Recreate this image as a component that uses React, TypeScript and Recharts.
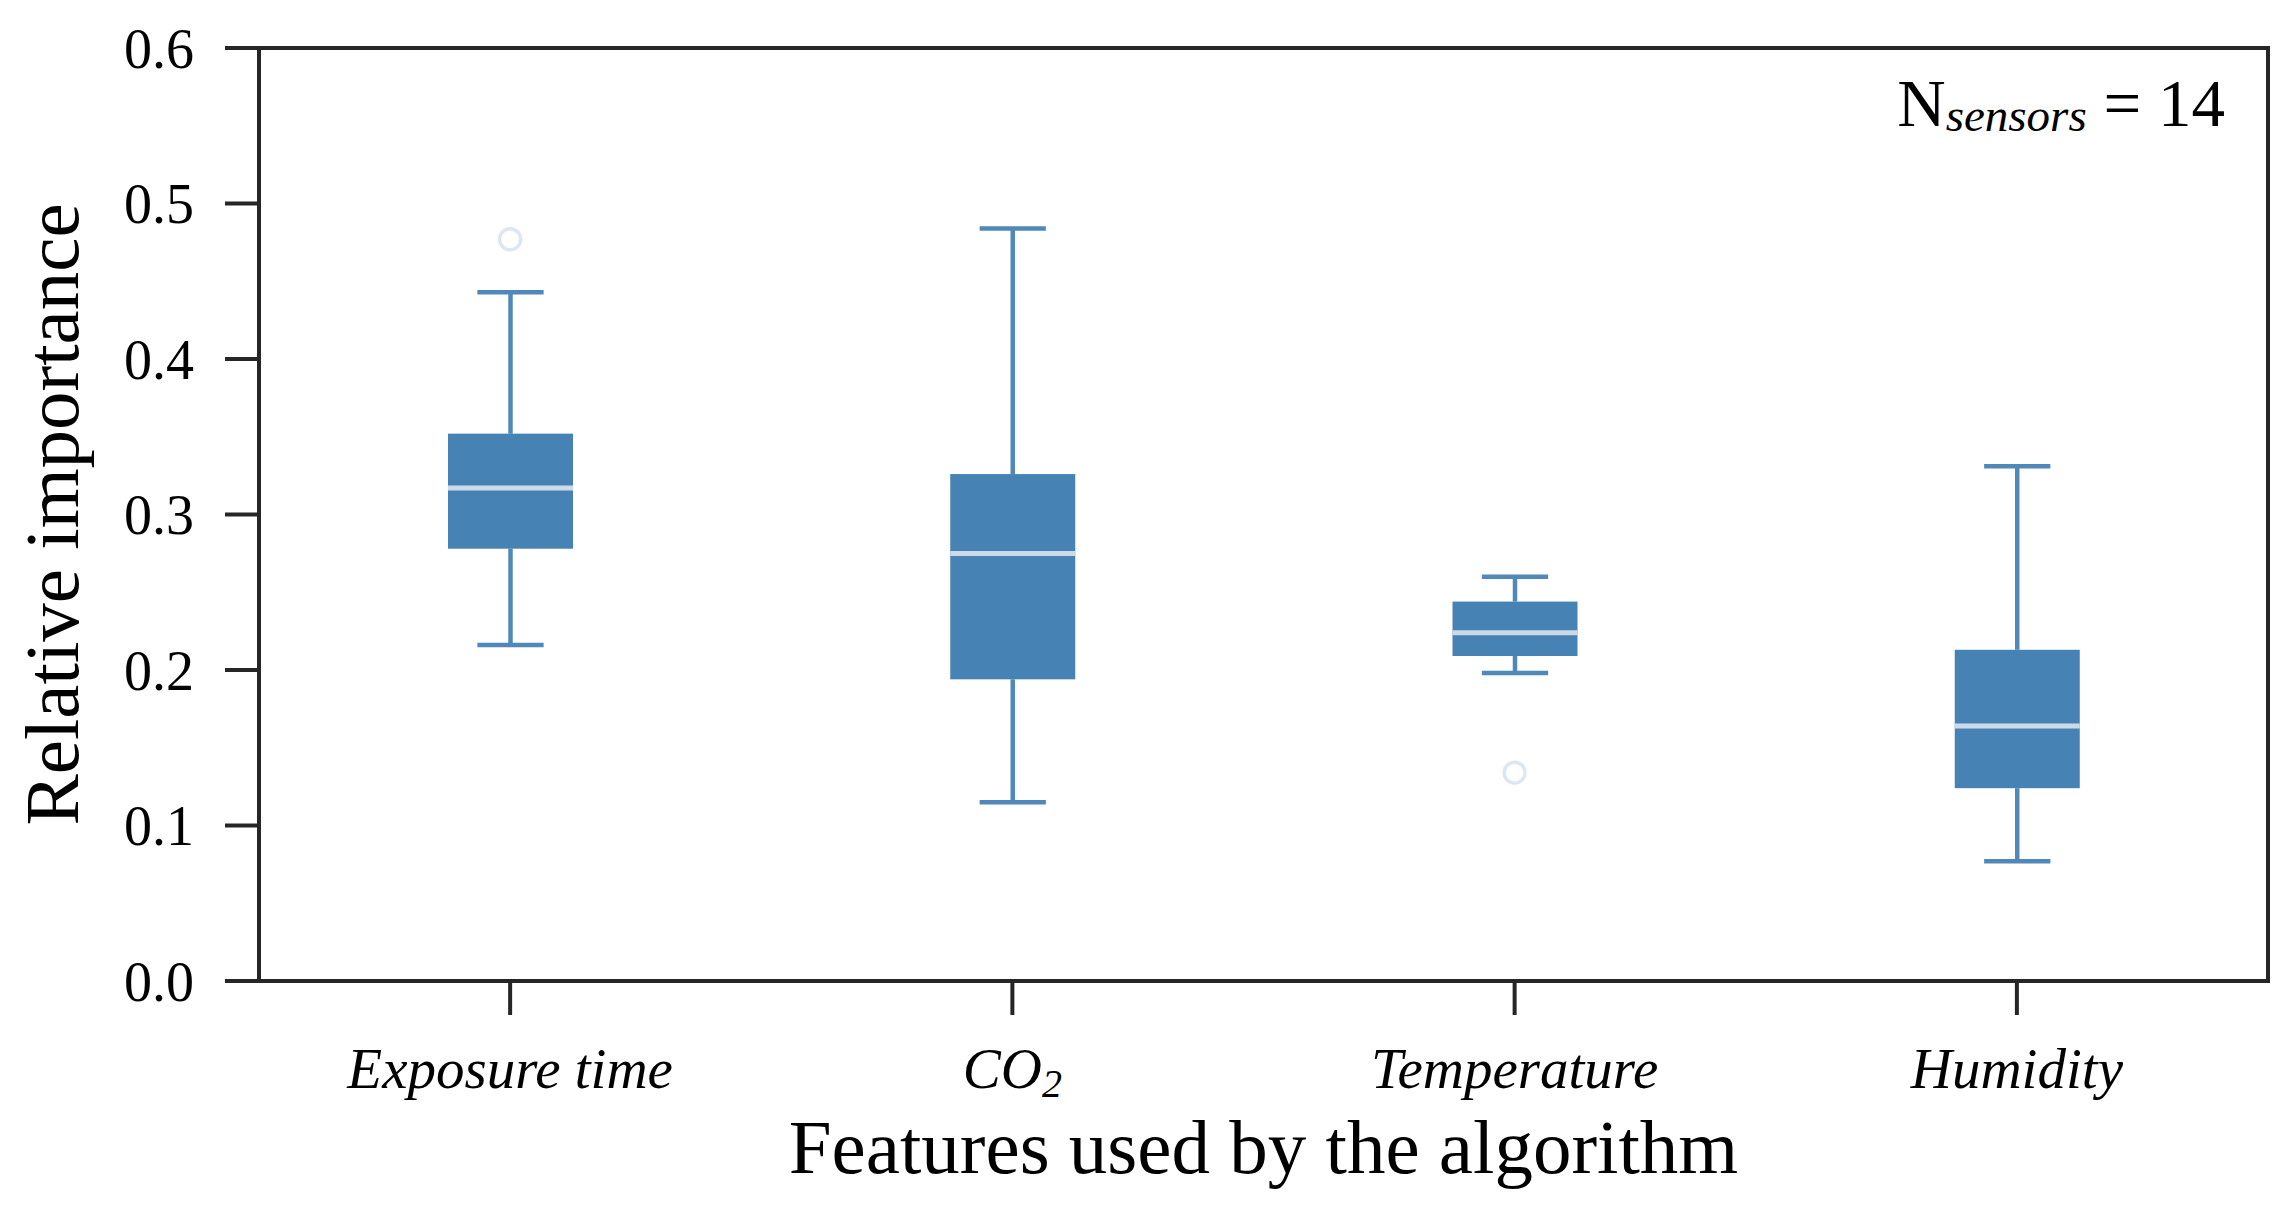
import React from "react";
import { ComposedChart, Bar, Scatter, XAxis, YAxis, ReferenceArea } from "recharts";

const categories = ["Exposure time", "CO2", "Temperature", "Humidity"];
const whiskerLow = [0.216, 0.115, 0.198, 0.077];
const q1 = [0.278, 0.194, 0.209, 0.124];
const median = [0.317, 0.275, 0.224, 0.164];
const q3 = [0.352, 0.326, 0.244, 0.213];
const whiskerHigh = [0.443, 0.484, 0.26, 0.331];
const outliers = [0.477, null, 0.134, null];
const yTicks = [0, 0.1, 0.2, 0.3, 0.4, 0.5, 0.6];

const data = categories.map((name, i) => ({
  name,
  low: whiskerLow[i],
  q1: q1[i],
  median: median[i],
  q3: q3[i],
  high: whiskerHigh[i],
  outlier: outliers[i],
}));

const FONT = "'Liberation Serif', 'Times New Roman', serif";
const BLUE = "#4682b4";
const WHISKER = "#5089b9";
const AXIS = "#262626";

// box drawn inside the range bar [low, high]; pixel positions come from the bar's own scale
function BoxShape(props: any) {
  const { x, y, width, height, payload } = props;
  if (!payload || !height) return <g />;
  const top = Math.min(y, y + height);
  const h = Math.abs(height);
  const ppu = h / (payload.high - payload.low);
  const yOf = (v: number) => top + (payload.high - v) * ppu;
  const cx = x + width / 2;
  const capW = width * 0.53;
  return (
    <g>
      <line x1={cx} x2={cx} y1={yOf(payload.high)} y2={yOf(payload.q3)} stroke={WHISKER} strokeWidth={4.5} />
      <line x1={cx} x2={cx} y1={yOf(payload.q1)} y2={yOf(payload.low)} stroke={WHISKER} strokeWidth={4.5} />
      <line x1={cx - capW / 2} x2={cx + capW / 2} y1={yOf(payload.high)} y2={yOf(payload.high)} stroke={WHISKER} strokeWidth={4.5} />
      <line x1={cx - capW / 2} x2={cx + capW / 2} y1={yOf(payload.low)} y2={yOf(payload.low)} stroke={WHISKER} strokeWidth={4.5} />
      <rect x={x} y={yOf(payload.q3)} width={width} height={yOf(payload.q1) - yOf(payload.q3)} fill={BLUE} />
      <line x1={x} x2={x + width} y1={yOf(payload.median)} y2={yOf(payload.median)} stroke="#cddbe9" strokeWidth={5} />
    </g>
  );
}

function OutlierShape(props: any) {
  const { cx, cy, payload } = props;
  if (!payload || payload.outlier == null || cy == null || isNaN(cy)) return <g />;
  return <circle cx={cx} cy={cy} r={10.5} fill="none" stroke="#dde7f1" strokeWidth={3.5} />;
}

function XTick(props: any) {
  const { x, y, payload } = props;
  const label = payload.value;
  const common = { x, y, dy: 73, textAnchor: "middle" as const, fontFamily: FONT, fontSize: 57, fontStyle: "italic", fill: "#000" };
  if (label === "CO2") {
    return (
      <text {...common}>
        CO<tspan fontSize={40} dy={9}>2</tspan>
      </text>
    );
  }
  return <text {...common}>{label}</text>;
}

function XTitle(props: any) {
  const vb = props.viewBox || { x: 251, y: 973, width: 2009, height: 220 };
  return (
    <text x={vb.x + vb.width / 2} y={vb.y + 192} textAnchor="middle" fontFamily={FONT} fontSize={77} fill="#000">
      Features used by the algorithm
    </text>
  );
}

function YTitle(props: any) {
  const vb = props.viewBox || { x: 101, y: 40, width: 150, height: 933 };
  const tx = 70;
  const ty = vb.y + vb.height / 2;
  return (
    <text x={tx} y={ty} transform={`rotate(-90, ${tx}, ${ty})`} textAnchor="middle" fontFamily={FONT} fontSize={77} fill="#000">
      Relative importance
    </text>
  );
}

function Annotation(props: any) {
  const vb = props.viewBox || { x: 251, y: 40, width: 2009, height: 933 };
  return (
    <text x={vb.x + vb.width - 43} y={vb.y + 78} textAnchor="end" fontFamily={FONT} fontSize={67} fill="#000">
      N<tspan fontStyle="italic" fontSize={47} dy={5}>sensors</tspan>
      <tspan dy={-5}>{" = 14"}</tspan>
    </text>
  );
}

export default function App() {
  return (
    <ComposedChart width={2279} height={1199} data={data} margin={{ top: 40, right: 19, bottom: 6, left: 101 }}>
      <XAxis
        dataKey="name"
        height={220}
        axisLine={false}
        tickSize={34}
        tickMargin={0}
        tickLine={{ stroke: AXIS, strokeWidth: 4 }}
        tick={<XTick />}
        interval={0}
        label={{ content: XTitle }}
      />
      <YAxis
        type="number"
        domain={[0, 0.6]}
        ticks={yTicks}
        width={150}
        axisLine={false}
        tickSize={34}
        tickMargin={31}
        tickLine={{ stroke: AXIS, strokeWidth: 4 }}
        tick={{ fill: "#000", fontSize: 56, fontFamily: FONT }}
        tickFormatter={(v: number) => v.toFixed(1)}
        label={{ content: YTitle }}
      />
      <ReferenceArea y1={0} y2={0.6} fill="none" fillOpacity={0} stroke={AXIS} strokeWidth={4} ifOverflow="visible" label={{ content: Annotation }} />
      <Bar dataKey={(d: any) => [d.low, d.high]} barSize={125} shape={<BoxShape />} isAnimationActive={false} />
      <Scatter dataKey="outlier" shape={<OutlierShape />} isAnimationActive={false} />
    </ComposedChart>
  );
}
